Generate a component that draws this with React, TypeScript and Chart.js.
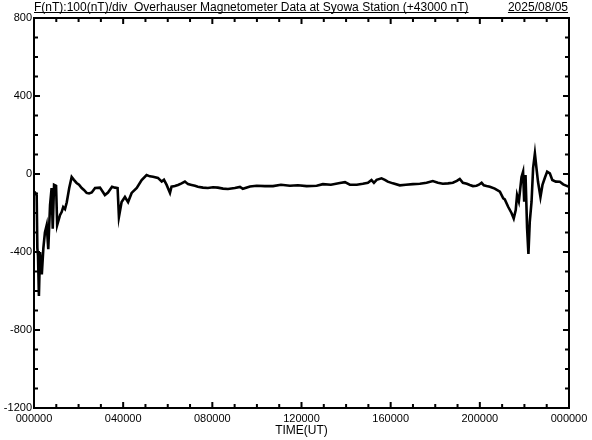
import React, { useEffect, useRef } from "react";
import { Chart, registerables } from "chart.js";

Chart.register(...registerables);

// Time of day in hours (UT)
const TIME_H = [
  0.02, 0.07, 0.12, 0.15, 0.18, 0.22, 0.27, 0.35, 0.42, 0.49, 0.57, 0.64, 0.72, 0.79, 0.84, 0.9, 0.99,
  1.04, 1.17, 1.24, 1.31, 1.39, 1.47, 1.58, 1.69, 1.79, 1.91, 2.02, 2.14, 2.24, 2.36, 2.47, 2.59, 2.74,
  2.96, 3.18, 3.32, 3.5, 3.63, 3.75, 3.81, 3.93, 4.08, 4.22, 4.38, 4.61, 4.83, 5.05, 5.2, 5.34, 5.56,
  5.73, 5.83, 5.95, 6.1, 6.17, 6.32, 6.46, 6.62, 6.77, 6.91, 7.07, 7.22, 7.35, 7.58, 7.8, 8.03, 8.25,
  8.48, 8.7, 9.01, 9.24, 9.37, 9.69, 9.99, 10.36, 10.72, 11.08, 11.48, 11.84, 12.23, 12.68, 12.96,
  13.32, 13.72, 13.95, 14.17, 14.48, 14.75, 14.98, 15.14, 15.25, 15.37, 15.59, 15.74, 15.87, 16.1,
  16.41, 16.68, 17.0, 17.31, 17.61, 17.89, 18.12, 18.34, 18.57, 18.79, 18.97, 19.1, 19.24, 19.42,
  19.55, 19.69, 19.85, 19.96, 20.08, 20.18, 20.3, 20.45, 20.67, 20.9, 21.05, 21.12, 21.27, 21.42,
  21.52, 21.61, 21.67, 21.75, 21.79, 21.87, 21.94, 21.99, 22.05, 22.12, 22.18, 22.24, 22.32, 22.39,
  22.47, 22.54, 22.61, 22.72, 22.81, 22.91, 23.02, 23.14, 23.25, 23.41, 23.59, 23.74, 23.92, 24.0,
];

// Total field F minus 43000 nT
const F_NT = [
  -90, -100, -110, -380, -420, -625, -400, -515, -380, -300, -262, -385, -160, -72, -280, -55, -60,
  -262, -210, -195, -170, -180, -145, -72, -15, -30, -46, -55, -72, -82, -97, -100, -95, -72,
  -70, -108, -95, -65, -70, -72, -220, -144, -118, -144, -97, -72, -31, -5, -12, -14, -20,
  -39, -30, -56, -97, -65, -62, -56, -48, -39, -52, -56, -60, -65, -70, -72, -68, -70,
  -75, -77, -72, -66, -76, -64, -60, -62, -62, -55, -60, -58, -62, -60, -52,
  -55, -46, -42, -55, -55, -50, -45, -31, -45, -30, -22, -30, -39, -48,
  -58, -55, -52, -50, -45, -36, -45, -50, -48, -45, -35, -25, -45, -50,
  -56, -62, -60, -55, -45, -58, -62, -65, -75, -91, -125, -130, -168, -200,
  -228, -185, -108, -140, -100, -15, 12, -142, -5, -278, -410, -245, -142, 30,
  105, 30, -40, -118, -56, -22, 12, 3, -31, -39, -40, -53, -62, -65,
];

const X_MIN = 0;
const X_MAX = 24;
const X_STEP = 4;
const Y_MIN = -1200;
const Y_MAX = 800;
const Y_STEP = 400;
const Y_MINOR = 100;
const X_MINOR = 1;

const TITLE = "F(nT):100(nT)/div  Overhauser Magnetometer Data at Syowa Station (+43000 nT)";
const DATE = "2025/08/05";
const X_TITLE = "TIME(UT)";

const FONT = '"Liberation Sans", Arial, sans-serif';

const fmtTime = (h: number) => String(Math.round(h) % 24).padStart(2, "0") + "0000";

const framePlugin = {
  id: "frame",
  afterDraw(chart: any) {
    const { ctx, chartArea, scales } = chart;
    const { left, right, top, bottom } = chartArea;
    const x = scales.x;
    const y = scales.y;
    ctx.save();
    ctx.strokeStyle = "#000";
    ctx.lineWidth = 2;
    ctx.strokeRect(left, top, right - left, bottom - top);
    ctx.beginPath();
    for (let h = X_MIN + X_MINOR; h < X_MAX; h += X_MINOR) {
      const px = x.getPixelForValue(h);
      const len = h % X_STEP === 0 ? 6 : 4;
      ctx.moveTo(px, top);
      ctx.lineTo(px, top + len);
      ctx.moveTo(px, bottom);
      ctx.lineTo(px, bottom - len);
    }
    for (let v = Y_MIN + Y_MINOR; v < Y_MAX; v += Y_MINOR) {
      const py = y.getPixelForValue(v);
      const len = v % Y_STEP === 0 ? 6 : 4;
      ctx.moveTo(left, py);
      ctx.lineTo(left + len, py);
      ctx.moveTo(right, py);
      ctx.lineTo(right - len, py);
    }
    ctx.stroke();

    ctx.font = "12px " + FONT;
    ctx.fillStyle = "#000";
    ctx.textBaseline = "alphabetic";
    ctx.textAlign = "left";
    ctx.fillText(TITLE, left, 11);
    const tw = ctx.measureText(TITLE).width;
    ctx.fillRect(left, 12, tw, 1);
    ctx.textAlign = "right";
    ctx.fillText(DATE, right - 1, 11);
    const dw = ctx.measureText(DATE).width;
    ctx.fillRect(right - 1 - dw, 12, dw, 1);
    ctx.restore();
  },
};

export default function App() {
  const ref = useRef<HTMLCanvasElement | null>(null);

  useEffect(() => {
    document.body.style.margin = "0";
    const canvas = ref.current;
    if (!canvas) return;
    const chart = new Chart(canvas, {
      type: "line",
      data: {
        datasets: [
          {
            data: TIME_H.map((h, i) => ({ x: h, y: F_NT[i] })),
            borderColor: "#000",
            borderWidth: 2.6,
            pointRadius: 0,
            tension: 0,
            fill: false,
          },
        ],
      },
      options: {
        animation: false,
        responsive: false,
        maintainAspectRatio: false,
        layout: { padding: { top: 18, right: 23, left: 0, bottom: 0 } },
        plugins: {
          legend: { display: false },
          tooltip: { enabled: false },
          title: { display: false },
        },
        scales: {
          x: {
            type: "linear",
            min: X_MIN,
            max: X_MAX,
            grid: { display: false, drawTicks: false },
            border: { display: false },
            ticks: {
              stepSize: X_STEP,
              autoSkip: false,
              maxRotation: 0,
              padding: 4,
              color: "#000",
              font: { family: FONT, size: 11 },
              callback: (v: any) => fmtTime(Number(v)),
            },
            title: {
              display: true,
              text: X_TITLE,
              color: "#000",
              font: { family: FONT, size: 12 },
              padding: { top: 0, bottom: 2 },
            },
            afterFit: (s: any) => {
              s.height = 32;
            },
          },
          y: {
            min: Y_MIN,
            max: Y_MAX,
            grid: { display: false, drawTicks: false },
            border: { display: false },
            ticks: {
              stepSize: Y_STEP,
              padding: 2,
              color: "#000",
              font: { family: FONT, size: 11 },
              callback: (v: any) => String(v),
            },
            afterFit: (s: any) => {
              s.width = 34;
            },
          },
        },
      },
      plugins: [framePlugin],
    });
    return () => chart.destroy();
  }, []);

  return (
    <div style={{ width: 592, height: 440, background: "#fff" }}>
      <canvas ref={ref} width={592} height={440} style={{ display: "block" }} />
    </div>
  );
}
